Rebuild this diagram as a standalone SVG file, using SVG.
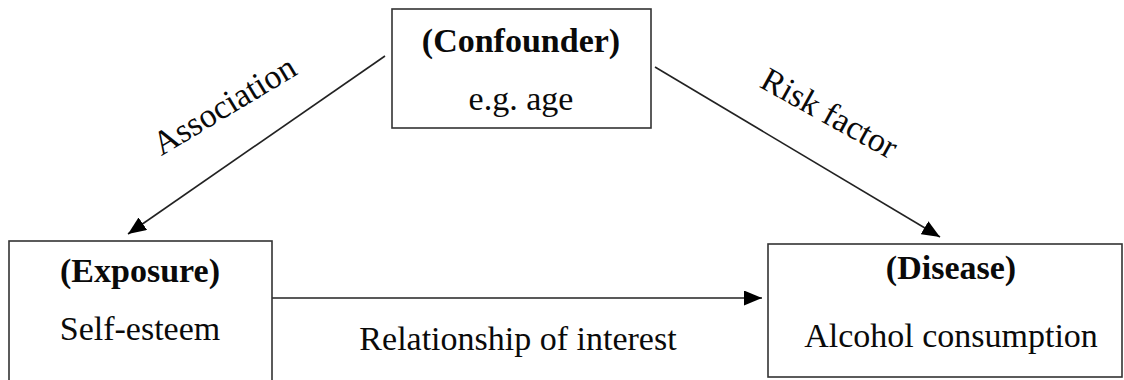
<svg xmlns="http://www.w3.org/2000/svg" width="1124" height="380" viewBox="0 0 1124 380">
  <style>
    .box { fill: #ffffff; stroke: #333333; stroke-width: 1.6; }
    .edge { fill: none; stroke: #222222; stroke-width: 1.6; }
    .t { font-family: "Liberation Serif", "Times New Roman", serif; font-size: 34px; fill: #0a0a0a; text-anchor: middle; }
    .b { font-weight: bold; }
  </style>
  <defs>
    <marker id="arrow" markerUnits="userSpaceOnUse" markerWidth="20" markerHeight="16" refX="18" refY="7.5" orient="auto">
      <path d="M0,0 L18,7.5 L0,15 Z" fill="#000000"/>
    </marker>
  </defs>
  <rect width="1124" height="380" fill="#ffffff"/>

  <g id="connectors">
    <line class="edge" x1="385" y1="56" x2="128" y2="234" marker-end="url(#arrow)"/>
    <line class="edge" x1="655" y1="67" x2="940" y2="237" marker-end="url(#arrow)"/>
    <line class="edge" x1="272" y1="298" x2="762" y2="298" marker-end="url(#arrow)"/>
    <text class="t" x="0" y="0" transform="translate(230,115) rotate(-31)">Association</text>
    <text class="t" x="0" y="0" transform="translate(824,123) rotate(29)">Risk factor</text>
    <text class="t" x="518" y="350">Relationship of interest</text>
  </g>

  <g id="confounder">
    <rect class="box" x="392" y="9" width="259" height="119"/>
    <text class="t b" x="521" y="52">(Confounder)</text>
    <text class="t" x="521" y="110">e.g. age</text>
  </g>

  <g id="exposure">
    <rect class="box" x="9" y="241" width="263" height="150"/>
    <text class="t b" x="140" y="282">(Exposure)</text>
    <text class="t" x="140" y="340">Self-esteem</text>
  </g>

  <g id="disease">
    <rect class="box" x="768" y="244" width="354" height="133"/>
    <text class="t b" x="951" y="279">(Disease)</text>
    <text class="t" x="951" y="347">Alcohol consumption</text>
  </g>
</svg>
